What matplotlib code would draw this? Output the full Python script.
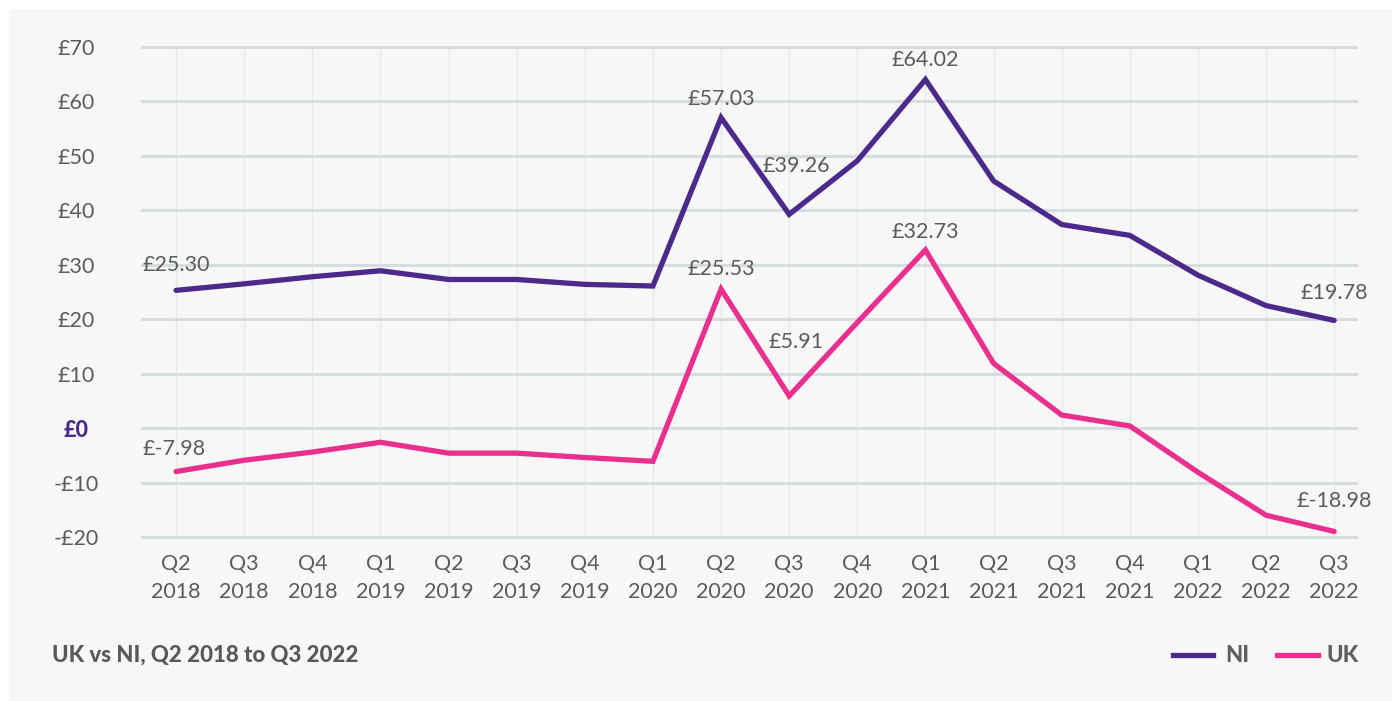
import matplotlib
matplotlib.use("Agg")
import matplotlib.pyplot as plt
from matplotlib.patches import Rectangle
from matplotlib.lines import Line2D

# ---- data ----
quarters = ["Q2\n2018", "Q3\n2018", "Q4\n2018", "Q1\n2019", "Q2\n2019", "Q3\n2019",
            "Q4\n2019", "Q1\n2020", "Q2\n2020", "Q3\n2020", "Q4\n2020", "Q1\n2021",
            "Q2\n2021", "Q3\n2021", "Q4\n2021", "Q1\n2022", "Q2\n2022", "Q3\n2022"]
ni_values = [25.30, 26.5, 27.8, 28.9, 27.3, 27.3, 26.4, 26.1, 57.03, 39.26,
             49.1, 64.02, 45.4, 37.4, 35.4, 28.1, 22.5, 19.78]
uk_values = [-7.98, -5.9, -4.4, -2.6, -4.6, -4.6, -5.4, -6.1, 25.53, 5.91,
             19.4, 32.73, 11.9, 2.4, 0.4, -8.1, -16.0, -18.98]
y_ticks = [-20, -10, 0, 10, 20, 30, 40, 50, 60, 70]
y_tick_labels = ["-£20", "-£10", "£0", "£10", "£20", "£30", "£40", "£50", "£60", "£70"]
title_text = "UK vs NI, Q2 2018 to Q3 2022"
# labelled points: (index, text, offset px)
ni_labels = [(0, "£25.30", (0, 25)), (8, "£57.03", (0, 19)), (9, "£39.26", (7, 48)),
             (11, "£64.02", (0, 20)), (17, "£19.78", (0, 27))]
uk_labels = [(0, "£-7.98", (-2, 23)), (8, "£25.53", (0, 20)), (9, "£5.91", (7, 54)),
             (11, "£32.73", (0, 18)), (17, "£-18.98", (0, 30))]

NI_COLOR = "#4b2a8c"
UK_COLOR = "#e9308f"
TEXT_COLOR = "#5b5b5b"
GRID_COLOR = "#d5dde0"
VGRID_COLOR = "#e3e8ea"
FONT = ["Lato", "DejaVu Sans"]
FS = 15.5

W, H = 1392, 701
fig = plt.figure(figsize=(W / 100, H / 100), dpi=100)
fig.patch.set_facecolor("white")
fig.patches.append(Rectangle((9 / W, 0), (W - 9) / W, (H - 9) / H,
                             transform=fig.transFigure, facecolor="#f7f7f7",
                             edgecolor="none", zorder=-10))

# axes placement (pixels from top): y=70 at 47, y=-20 at 537
ppu = 490 / 90
ymin, ymax = -20.5, 70.5
top_px = 47 - (ymax - 70) * ppu
bot_px = 537 + (-20 - ymin) * ppu
left_px, right_px = 141, 1358
ax = fig.add_axes([left_px / W, (H - bot_px) / H, (right_px - left_px) / W, (bot_px - top_px) / H])
ax.set_facecolor("none")
x = list(range(len(quarters)))
ax.set_xlim(-0.515, 17.35)
ax.set_ylim(ymin, ymax)

for s in ax.spines.values():
    s.set_visible(False)

# gridlines
for yt in y_ticks:
    ax.axhline(yt, color=GRID_COLOR, lw=2.2, zorder=1)
ax.vlines(x, -20, 70, color=VGRID_COLOR, lw=1.0, zorder=0.5)

# lines
ax.plot(x, ni_values, color=NI_COLOR, lw=3.8, solid_capstyle="round",
        solid_joinstyle="miter", zorder=3)
ax.plot(x, uk_values, color=UK_COLOR, lw=3.8, solid_capstyle="round",
        solid_joinstyle="miter", zorder=3)

for idx, txt, off in ni_labels:
    ax.annotate(txt, (x[idx], ni_values[idx]), xytext=off, textcoords="offset pixels",
                ha="center", va="center", fontsize=FS, color=TEXT_COLOR, family=FONT, zorder=4)
for idx, txt, off in uk_labels:
    ax.annotate(txt, (x[idx], uk_values[idx]), xytext=off, textcoords="offset pixels",
                ha="center", va="center", fontsize=FS, color=TEXT_COLOR, family=FONT, zorder=4)

# ticks
ax.set_xticks(x)
ax.set_xticklabels(quarters, fontsize=FS, color=TEXT_COLOR, family=FONT, linespacing=1.55)
ax.tick_params(axis="x", length=0, pad=10)
ax.set_yticks(y_ticks)
ax.set_yticklabels(y_tick_labels, fontsize=FS, color=TEXT_COLOR, family=FONT)
ax.tick_params(axis="y", length=0, pad=46.5)
for lbl in ax.get_yticklabels():
    lbl.set_horizontalalignment("center")
    if lbl.get_text() == "£0":
        lbl.set_color(NI_COLOR)
        lbl.set_fontweight("black")

# footer title
fig.text(52 / W, 1 - 655 / H, title_text, ha="left", va="center", fontsize=16,
         fontweight="black", color="#58595b", family=FONT)

# legend (manual)
ly = 1 - 655 / H
fig.lines.append(Line2D([1173 / W, 1213 / W], [ly, ly], transform=fig.transFigure,
                        color=NI_COLOR, lw=3.8))
fig.text(1225 / W, ly, "NI", ha="left", va="center", fontsize=16, fontweight="black",
         color="#5f6062", family=FONT)
fig.lines.append(Line2D([1277 / W, 1318 / W], [ly, ly], transform=fig.transFigure,
                        color=UK_COLOR, lw=3.8))
fig.text(1326 / W, ly, "UK", ha="left", va="center", fontsize=16, fontweight="black",
         color="#5f6062", family=FONT)

fig.savefig("out.png", dpi=100, facecolor=fig.get_facecolor())
